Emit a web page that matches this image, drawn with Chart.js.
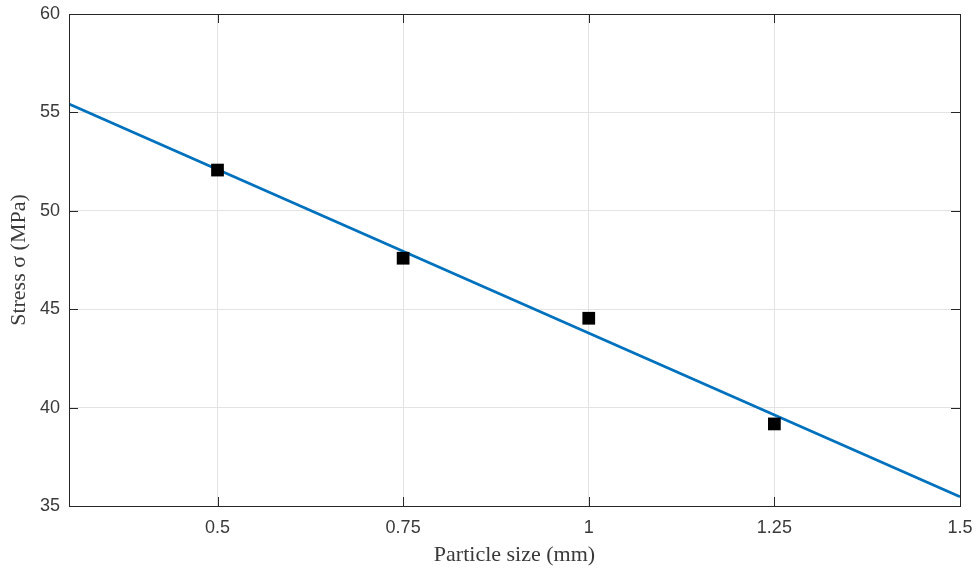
<!DOCTYPE html>
<html>
<head>
<meta charset="utf-8">
<script src="https://cdn.jsdelivr.net/npm/chart.js@4"></script>
<style>
  html, body { margin: 0; padding: 0; background: #fff; }
  #wrap { width: 977px; height: 569px; }
</style>
</head>
<body>
<div id="wrap"><canvas id="chart" width="977" height="569"></canvas></div>
<script>
// Datos medidos
const particleSize = [0.5, 0.75, 1, 1.25];
const stress = [52.07, 47.59, 44.54, 39.17];

// Recta de ajuste (extremos)
const fitX = [0.3, 1.5];
const fitY = [55.43, 35.47];

// Marcas de los ejes
const xTicks = [0.5, 0.75, 1, 1.25, 1.5];
const yTicks = [35, 40, 45, 50, 55, 60];

const axisColor = '#262626';
const textColor = '#3a3a3a';

// Marco y marcas hacia dentro, estilo MATLAB
const boxPlugin = {
    id: 'boxPlugin',
    afterDraw(chart) {
        const { ctx, chartArea: a, scales } = chart;
        const len = 9;
        ctx.save();
        ctx.strokeStyle = axisColor;
        ctx.lineWidth = 1;
        ctx.beginPath();
        xTicks.forEach(v => {
            const px = Math.round(scales.x.getPixelForValue(v)) + 0.5;
            ctx.moveTo(px, a.bottom); ctx.lineTo(px, a.bottom - len);
            ctx.moveTo(px, a.top); ctx.lineTo(px, a.top + len);
        });
        yTicks.forEach(v => {
            const py = Math.round(scales.y.getPixelForValue(v)) + 0.5;
            ctx.moveTo(a.left, py); ctx.lineTo(a.left + len, py);
            ctx.moveTo(a.right, py); ctx.lineTo(a.right - len, py);
        });
        ctx.stroke();
        ctx.strokeRect(Math.round(a.left) + 0.5, Math.round(a.top) + 0.5,
            Math.round(a.right - a.left), Math.round(a.bottom - a.top));
        ctx.restore();
    }
};

// Sin relleno extra por etiquetas: el área la fija layout.padding
function noOverhang(scale) {
    scale.paddingTop = 0;
    scale.paddingBottom = 0;
    scale.paddingLeft = 0;
    scale.paddingRight = 0;
}

new Chart(document.getElementById('chart').getContext('2d'), {
    type: 'scatter',
    data: {
        datasets: [{
            label: 'Datos',
            data: particleSize.map((x, i) => ({ x: x, y: stress[i] })),
            pointStyle: 'rect',
            pointRadius: 9,
            pointHoverRadius: 9,
            backgroundColor: '#000',
            borderColor: '#000',
            borderWidth: 0,
            order: 0
        }, {
            type: 'line',
            label: 'Ajuste',
            data: fitX.map((x, i) => ({ x: x, y: fitY[i] })),
            borderColor: '#0072BD',
            borderWidth: 2.8,
            pointRadius: 0,
            fill: false,
            order: 1
        }]
    },
    options: {
        responsive: false,
        animation: false,
        layout: { padding: { top: 14, right: 17, left: 0, bottom: 0 } },
        plugins: {
            legend: { display: false },
            tooltip: { enabled: false }
        },
        scales: {
            x: {
                type: 'linear',
                min: 0.3,
                max: 1.5,
                afterBuildTicks: scale => { scale.ticks = xTicks.map(v => ({ value: v })); },
                afterFit: scale => { scale.height = 63; noOverhang(scale); },
                grid: { color: '#e3e3e3', drawTicks: false },
                border: { display: false },
                ticks: {
                    color: textColor,
                    font: { family: 'Liberation Sans', size: 18 },
                    padding: 11,
                    maxRotation: 0,
                    callback: v => String(v)
                },
                title: {
                    display: true,
                    text: 'Particle size (mm)',
                    color: textColor,
                    font: { family: 'Liberation Serif', size: 22 },
                    padding: { top: 0, bottom: 1 }
                }
            },
            y: {
                min: 35,
                max: 60,
                afterBuildTicks: scale => { scale.ticks = yTicks.map(v => ({ value: v })); },
                afterFit: scale => { scale.width = 69; noOverhang(scale); },
                grid: { color: '#e3e3e3', drawTicks: false },
                border: { display: false },
                ticks: {
                    color: textColor,
                    font: { family: 'Liberation Sans', size: 18 },
                    padding: 9,
                    callback: v => String(v)
                },
                title: {
                    display: true,
                    text: 'Stress σ (MPa)',
                    color: textColor,
                    font: { family: 'Liberation Serif', size: 22 },
                    padding: { top: 6, bottom: 0 }
                }
            }
        }
    },
    plugins: [boxPlugin]
});
</script>
</body>
</html>
